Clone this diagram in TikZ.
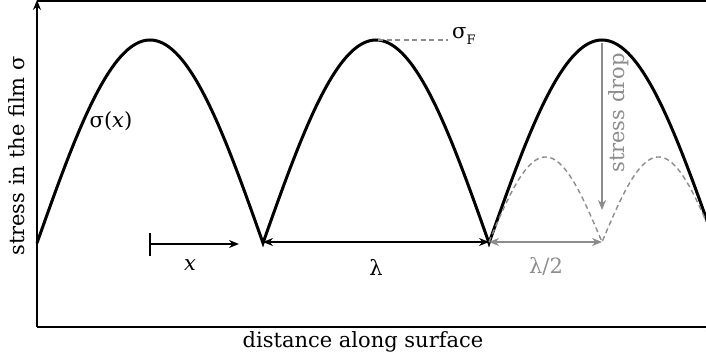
\documentclass[tikz,border=0pt]{standalone}
\usepackage{fontspec}
\setmainfont{DejaVu Serif}
\usetikzlibrary{arrows.meta}
\definecolor{mygray}{RGB}{140,140,140}
\tikzset{
  axisline/.style={line width=2pt,black},
  curveline/.style={line width=3pt,black},
  dashcurve/.style={line width=1.4pt,mygray,dash pattern=on 5pt off 3.5pt},
  dimarrow/.style={line width=1.5pt,{Stealth[length=10pt,width=8pt]}-{Stealth[length=10pt,width=8pt]}},
  lbl/.style={font=\fontsize{21}{24}\selectfont,inner sep=0pt},
}
\begin{document}
\begin{tikzpicture}[x=1pt,y=-1pt]
\useasboundingbox (0,0) rectangle (706,363);
\clip (0,0) rectangle (706,363);
% axes
\coordinate (O) at (37,327);
\coordinate (Ytop) at (37,0);
\coordinate (Xend) at (716,327);
\draw[axisline,-{Stealth[length=10pt,width=8pt]}] (O) -- (Ytop);
\draw[axisline,-{Stealth[length=10pt,width=8pt]}] (O) -- (Xend);
\coordinate (TL) at (37,1);
\coordinate (TR) at (706,1);
\draw[axisline] (TL) -- (TR);
% curves
\draw[curveline] plot[domain=37:715,samples=679] (\x,{243-203*abs(sin((\x-37)/226*180))});
\draw[dashcurve] plot[domain=489:715,samples=227] (\x,{242-85*abs(sin((\x-489)/113*180))});
% sigma_F
\coordinate (P2) at (378,40);
\coordinate (SF) at (448,40);
\draw[dashcurve] (P2) -- (SF);
\node[lbl,anchor=west] (sigF) at (452,36) {σ\raisebox{-0.3em}{\fontsize{13}{14}\selectfont F}};
% sigma(x)
\node[lbl] (sigx) at (111,121) {σ(\textit{x})};
% x arrow
\coordinate (XA) at (150,244);
\coordinate (XB) at (239,244);
\coordinate (XB1) at (150,233);
\coordinate (XB2) at (150,256);
\draw[line width=1.5pt] (XB1) -- (XB2);
\draw[line width=1.5pt,-{Stealth[length=10pt,width=8pt]}] (XA) -- (XB);
\node[lbl] (xl) at (190,265) {\textit{x}};
% lambda
\coordinate (L1) at (263,242);
\coordinate (L2) at (489,242);
\draw[dimarrow] (L1) -- (L2);
\node[lbl] (ll) at (376,267) {λ};
% lambda/2
\coordinate (H1) at (489,242);
\coordinate (H2) at (602,242);
\draw[dimarrow,mygray] (H1) -- (H2);
\node[lbl,text=mygray] (hl) at (546,266) {λ/2};
% stress drop
\coordinate (D1) at (602,43);
\coordinate (D2) at (602,210);
\draw[line width=1.5pt,mygray,-{Stealth[length=10pt,width=8pt]}] (D1) -- (D2);
\node[lbl,text=mygray,rotate=90] (sd) at (619,113) {stress drop};
% axis labels
\node[lbl,rotate=90] (yl) at (17,156) {stress in the film σ};
\node[lbl] (xlab) at (363,342) {distance along surface};
\end{tikzpicture}
\end{document}
